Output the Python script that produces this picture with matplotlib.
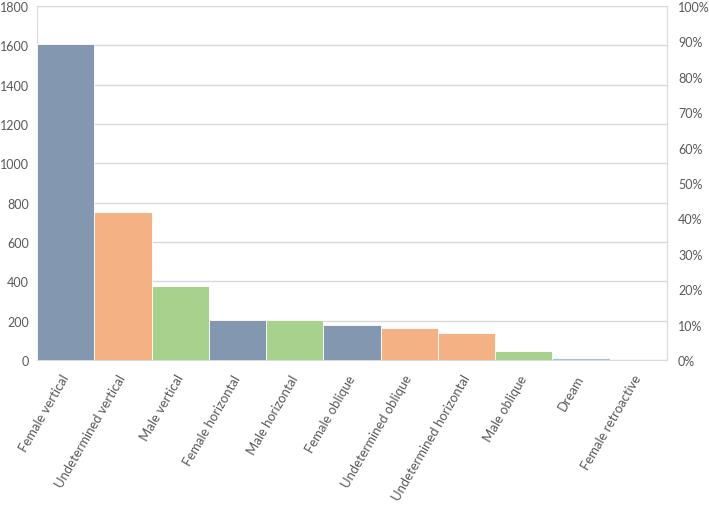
import matplotlib
matplotlib.use("Agg")
import matplotlib.pyplot as plt
from matplotlib.ticker import FuncFormatter, MultipleLocator

categories = ["Female vertical", "Undetermined vertical", "Male vertical",
              "Female horizontal", "Male horizontal", "Female oblique",
              "Undetermined oblique", "Undetermined horizontal", "Male oblique",
              "Dream", "Female retroactive"]
values = [1605, 755, 376, 204, 203, 177, 162, 135, 47, 8, 2]
colors = ["#8497B0", "#F4B183", "#A9D18E", "#8497B0", "#A9D18E", "#8497B0",
          "#F4B183", "#F4B183", "#A9D18E", "#9DC3E6", "#F4B183"]

plt.rcParams['font.family'] = ['Lato', 'DejaVu Sans']
fig = plt.figure(figsize=(7.09, 5.06), dpi=100)
ax = fig.add_axes([37/709, 1-361/506, 630/709, 354/506])
x = list(range(len(categories)))
ax.bar(x, values, width=1.0, color=colors, edgecolor="white", linewidth=0.6, zorder=3)
ax.set_xlim(-0.5, len(categories)-0.5)
ax.set_ylim(0, 1800)
ax.yaxis.set_major_locator(MultipleLocator(200))
ax.grid(axis='y', color="#D9D9D9", linewidth=1, zorder=0)
for s in ax.spines.values():
    s.set_color("#D9D9D9")
ax.tick_params(axis='y', length=0, colors="#595959", labelsize=9, pad=6)
ax.tick_params(axis='x', length=0, colors="#595959", labelsize=9.4, pad=11)
ax.set_xticks(x)
ax.set_xticklabels(categories, rotation=60, ha='right', va='center', rotation_mode='anchor')

ax2 = ax.twinx()
ax2.set_ylim(0, 1)
ax2.yaxis.set_major_locator(MultipleLocator(0.1))
ax2.yaxis.set_major_formatter(FuncFormatter(lambda v, p: f"{v*100:.0f}%"))
ax2.tick_params(axis='y', length=0, colors="#595959", labelsize=9, pad=8)
for s in ax2.spines.values():
    s.set_visible(False)

fig.savefig("out.png", dpi=100)
